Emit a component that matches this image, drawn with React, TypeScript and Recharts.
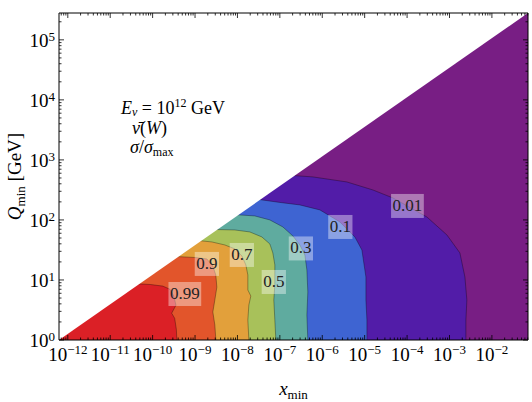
import React from "react";
import { ComposedChart, Area, XAxis, YAxis, CartesianGrid, ReferenceDot } from "recharts";

const FONT = '"Liberation Serif", "Times New Roman", serif';

// axis range (log-log)
const X_MIN = 6.2e-13;
const X_MAX = 7.1e-2;
const Q_MIN = 1;
const Q_MAX = 2.8e5;

const X_EXPONENTS = [-12, -11, -10, -9, -8, -7, -6, -5, -4, -3, -2];
const Q_EXPONENTS = [0, 1, 2, 3, 4, 5];
const MINOR_STEPS = [2, 3, 4, 5, 6, 7, 8, 9];

// contour levels of sigma / sigma_max, innermost first
const LEVELS = ["0.99", "0.9", "0.7", "0.5", "0.3", "0.1", "0.01"];
// fill of the band just inside each level
const FILLS = ["#db2026", "#e2552b", "#e2a03b", "#a8c15a", "#5fab9f", "#3e64d2", "#521ca8"];
const OUTSIDE_FILL = "#781e84";

// contour lines as [Q_min, x_min], from the bottom edge up to the kinematic edge
const C099 = [
  [1, 3.72e-10], [1.5, 3.63e-10], [2.3, 3.31e-10], [2.8, 2.82e-10], [3.8, 3.55e-10],
  [5.4, 3.16e-10], [7.0, 2.57e-10], [7.9, 1.74e-10], [8.4, 8.9e-11], [8.7, 3.5e-11],
];
const C09 = [
  [1, 3.1e-9], [1.78, 2.93e-9], [2.93, 2.63e-9], [4.64, 2.93e-9], [7.6, 3.27e-9],
  [12.1, 3.09e-9], [17.1, 2.63e-9], [22.4, 1.9e-9], [23.7, 9.9e-10], [24.4, 4.39e-10],
  [25.1, 2.55e-10],
];
const C07 = [
  [1, 1.86e-8], [2.15, 1.76e-8], [3.83, 1.86e-8], [5.41, 2.07e-8], [6.81, 1.76e-8],
  [12.1, 1.76e-8], [17.8, 1.58e-8], [25.1, 1.27e-8], [32.9, 8.7e-9], [38.3, 5.05e-9],
  [43, 2.49e-9], [46, 9.9e-10],
];
const C05 = [
  [1, 8.05e-8], [2.15, 7.62e-8], [4.64, 7.21e-8], [8.25, 7.62e-8], [17.8, 7.62e-8],
  [28.2, 6.84e-8], [39.8, 5.81e-8], [52.1, 3.76e-8], [63.1, 1.96e-8], [68.1, 8.7e-9],
  [69.5, 2.49e-9],
];
const C03 = [
  [1, 4.57e-7], [2.61, 4.34e-7], [6.31, 4.57e-7], [14.7, 4.34e-7], [26.1, 3.89e-7],
  [38.3, 2.96e-7], [54.1, 2.03e-7], [76.4, 1.18e-7], [100, 5.81e-8], [116.6, 2.57e-8],
  [123.5, 7.4e-9],
];
const C01 = [
  [1, 1.13e-5], [2.15, 1.13e-5], [4.64, 1.07e-5], [11.2, 1.07e-5], [31.6, 8.6e-6],
  [52.1, 5.87e-6], [92.6, 2.6e-6], [146.8, 8.8e-7], [177.8, 2.96e-7], [195.7, 1.0e-7],
  [224, 2.57e-8],
];
const C001 = [
  [1, 2.44e-3], [2.15, 2.44e-3], [4.64, 2.57e-3], [11.2, 2.31e-3], [28.2, 1.76e-3],
  [56.2, 8.7e-4], [112, 2.93e-4], [232.6, 4.62e-5], [316, 1.56e-5], [429.5, 3.8e-6],
  [520.8, 6.0e-7], [562, 1.31e-7],
];
const CONTOURS = [C099, C09, C07, C05, C03, C01, C001];

// kinematic limit, everything above-left of it is empty
const EDGE = [[Q_MIN, X_MIN], [Q_MAX, X_MAX]];

// where the level labels sit
const LABEL_X = [5.75e-10, 1.9e-9, 1.27e-8, 7.2e-8, 3.13e-7, 2.67e-6, 1.02e-4];
const LABEL_Q = [5.84, 18.5, 26.1, 9.26, 33.5, 76.4, 171];

// one row per Q value, each contour in its own column
const byQ = new Map<number, Record<string, number>>();
function put(q: number, key: string, x: number) {
  const row = byQ.get(q) ?? { q };
  row[key] = x;
  byQ.set(q, row);
}
CONTOURS.forEach((c, i) => c.forEach(([q, x]) => put(q, `c${i}`, x)));
EDGE.forEach(([q, x]) => put(q, "edge", x));
const rows = [...byQ.values()].sort((a, b) => a.q - b.q);

function logTicks(exps: number[], lo: number, hi: number) {
  const out: number[] = [];
  for (let e = exps[0] - 1; e <= exps[exps.length - 1]; e++) {
    for (const m of [1, ...MINOR_STEPS]) {
      const v = m * Math.pow(10, e);
      if (v >= lo && v <= hi) out.push(v);
    }
  }
  return out;
}
const xTicks = logTicks(X_EXPONENTS, X_MIN, X_MAX);
const qTicks = logTicks(Q_EXPONENTS, Q_MIN, Q_MAX);

function AxisTick(props: any) {
  const { x, y, payload, side } = props;
  const e = Math.log10(payload.value);
  const major = Math.abs(e - Math.round(e)) < 1e-6;
  const len = major ? 5 : 2.5;
  const exp = String(Math.round(e)).replace("-", "\u2212");
  if (side === "bottom") {
    return (
      <g>
        <line x1={x} y1={y} x2={x} y2={y - len} stroke="#000" strokeWidth={0.8} />
        {major && (
          <text x={x} y={y + 21} textAnchor="middle" fontFamily={FONT} fontSize={19} fill="#000">
            10<tspan dy={-7} fontSize={13}>{exp}</tspan>
          </text>
        )}
      </g>
    );
  }
  if (side === "top") {
    return <line x1={x} y1={y} x2={x} y2={y + len} stroke="#000" strokeWidth={0.8} />;
  }
  if (side === "left") {
    return (
      <g>
        <line x1={x} y1={y} x2={x + len} y2={y} stroke="#000" strokeWidth={0.8} />
        {major && (
          <text x={x - 4} y={y + 7} textAnchor="end" fontFamily={FONT} fontSize={19} fill="#000">
            10<tspan dy={-6} fontSize={13}>{exp}</tspan>
          </text>
        )}
      </g>
    );
  }
  return <line x1={x} y1={y} x2={x - len} y2={y} stroke="#000" strokeWidth={0.8} />;
}

function LevelLabel(props: any) {
  const { cx, cy, text } = props;
  const digits = text.replace(".", "").length;
  const w = 17 * (0.5 * digits + 0.25) + 3;
  return (
    <g>
      <rect x={cx - w / 2} y={cy - 12} width={w} height={24} fill="#fff" fillOpacity={0.4} />
      <text x={cx} y={cy + 5} textAnchor="middle" fontFamily={FONT} fontSize={17} fill="#222">
        {text}
      </text>
    </g>
  );
}

const axisCommon = {
  tickLine: false,
  tickSize: 0,
  tickMargin: 0,
  interval: 0 as const,
  allowDataOverflow: true,
  axisLine: { stroke: "#000", strokeWidth: 1 },
};

export default function App() {
  return (
    <div style={{ position: "relative", width: 532, height: 402 }}>
      <style>{`body{margin:0;}`}</style>
      <ComposedChart
        width={532}
        height={402}
        layout="vertical"
        data={rows}
        margin={{ top: 0, right: 0, bottom: 0, left: 0 }}
      >
        <CartesianGrid xAxisId="b" yAxisId="l" horizontal={false} vertical={false} fill={OUTSIDE_FILL} />
        {CONTOURS.map((_, i) => CONTOURS.length - 1 - i).map((i) => (
          <Area
            key={LEVELS[i]}
            xAxisId="b"
            yAxisId="l"
            dataKey={`c${i}`}
            type="linear"
            baseValue={X_MIN}
            fill={FILLS[i]}
            fillOpacity={1}
            stroke="rgba(0,0,0,0.4)"
            strokeWidth={0.8}
            connectNulls
            dot={false}
            activeDot={false}
            isAnimationActive={false}
          />
        ))}
        <Area
          xAxisId="b"
          yAxisId="l"
          dataKey="edge"
          type="linear"
          baseValue={X_MIN}
          fill="#fff"
          fillOpacity={1}
          stroke="none"
          connectNulls
          dot={false}
          activeDot={false}
          isAnimationActive={false}
        />
        {LEVELS.map((lv, i) => (
          <ReferenceDot
            key={"lbl" + lv}
            xAxisId="b"
            yAxisId="l"
            x={LABEL_X[i]}
            y={LABEL_Q[i]}
            r={0}
            shape={(p: any) => <LevelLabel {...p} text={lv} />}
          />
        ))}
        <XAxis
          {...axisCommon}
          xAxisId="b"
          type="number"
          scale="log"
          domain={[X_MIN, X_MAX]}
          ticks={xTicks}
          height={62}
          tick={(p: any) => <AxisTick {...p} side="bottom" />}
          label={{
            content: ({ viewBox }: any) => (
              <text
                x={viewBox.x + viewBox.width / 2}
                y={viewBox.y + 55}
                textAnchor="middle"
                fontFamily={FONT}
                fontSize={19}
                fill="#000"
              >
                <tspan fontStyle="italic">x</tspan>
                <tspan dy={4} fontSize={13}>min</tspan>
              </text>
            ),
          }}
        />
        <XAxis
          {...axisCommon}
          xAxisId="t"
          orientation="top"
          type="number"
          scale="log"
          domain={[X_MIN, X_MAX]}
          ticks={xTicks}
          height={13}
          tick={(p: any) => <AxisTick {...p} side="top" />}
        />
        <YAxis
          {...axisCommon}
          yAxisId="l"
          dataKey="q"
          type="number"
          scale="log"
          reversed
          domain={[Q_MIN, Q_MAX]}
          ticks={qTicks}
          width={59}
          tick={(p: any) => <AxisTick {...p} side="left" />}
          label={{
            content: ({ viewBox }: any) => {
              const cx = 21;
              const cy = viewBox.y + viewBox.height / 2;
              return (
                <text
                  x={cx}
                  y={cy}
                  transform={`rotate(-90, ${cx}, ${cy})`}
                  textAnchor="middle"
                  fontFamily={FONT}
                  fontSize={19}
                  fill="#000"
                >
                  <tspan fontStyle="italic">Q</tspan>
                  <tspan dy={4} fontSize={13}>min</tspan>
                  <tspan dy={-4}> [GeV]</tspan>
                </text>
              );
            },
          }}
        />
        <YAxis
          {...axisCommon}
          yAxisId="r"
          orientation="right"
          dataKey="q"
          type="number"
          scale="log"
          reversed
          domain={[Q_MIN, Q_MAX]}
          ticks={qTicks}
          width={4}
          tick={(p: any) => <AxisTick {...p} side="right" />}
        />
      </ComposedChart>
      <svg
        width={532}
        height={402}
        style={{ position: "absolute", left: 0, top: 0, pointerEvents: "none" }}
        fontFamily={FONT}
        fontSize={18}
      >
        <text x={121} y={114}>
          <tspan fontStyle="italic">E</tspan>
          <tspan dy={2} fontSize={12} fontStyle="italic">ν</tspan>
          <tspan dy={-2}> = 10</tspan>
          <tspan dy={-7} fontSize={12}>12</tspan>
          <tspan dy={7}> GeV</tspan>
        </text>
        <text x={132} y={134}>
          <tspan fontStyle="italic">{"ν\u0304"}</tspan>
          <tspan>(</tspan>
          <tspan fontStyle="italic">W</tspan>
          <tspan>)</tspan>
        </text>
        <text x={130} y={153}>
          <tspan fontStyle="italic">σ</tspan>
          <tspan>/</tspan>
          <tspan fontStyle="italic">σ</tspan>
          <tspan dy={3} fontSize={12}>max</tspan>
        </text>
      </svg>
    </div>
  );
}
